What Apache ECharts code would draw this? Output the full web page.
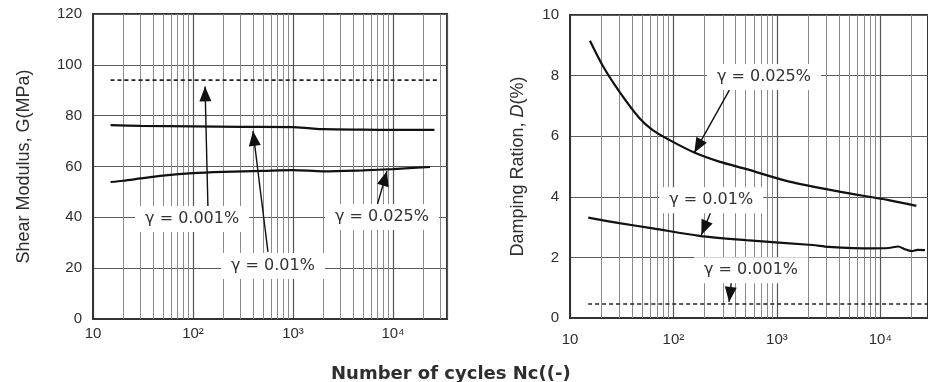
<!DOCTYPE html>
<html>
<head>
<meta charset="utf-8">
<script src="https://cdn.jsdelivr.net/npm/echarts@6/dist/echarts.min.js"></script>
<style>
html,body{margin:0;padding:0;background:#fff;}
#chart{width:928px;height:382px;}
</style>
</head>
<body>
<div id="chart"></div>
<script>
// ---------- data ----------
// Left panel: shear modulus G (MPa) vs number of cycles
const gX_001  = [15, 100, 1000, 10000, 29500];
const gY_001  = [94, 94, 94, 94, 94];
const gX_01   = [15, 30, 100, 300, 1000, 1500, 2000, 5000, 10000, 26000];
const gY_01   = [76.3, 76.0, 75.8, 75.6, 75.5, 75.0, 74.7, 74.5, 74.4, 74.4];
const gX_025  = [15, 20, 30, 50, 100, 200, 500, 1000, 2000, 5000, 10000, 23500];
const gY_025  = [53.9, 54.4, 55.3, 56.4, 57.4, 57.9, 58.3, 58.6, 58.1, 58.5, 59.0, 59.8];

// Right panel: damping ratio D (%) vs number of cycles
const dX_025  = [15.6, 21, 30, 47, 63, 92, 159, 277, 500, 1320, 4000, 12000, 22300];
const dY_025  = [9.15, 8.29, 7.47, 6.59, 6.2, 5.87, 5.46, 5.16, 4.92, 4.50, 4.17, 3.89, 3.70];
const dX_01   = [15, 30, 63, 178, 500, 2200, 3160, 8300, 12000, 14900, 17000, 20000, 23000, 27000];
const dY_01   = [3.31, 3.13, 2.96, 2.71, 2.57, 2.41, 2.35, 2.30, 2.31, 2.36, 2.28, 2.21, 2.25, 2.24];
const dX_001  = [15, 100, 1000, 10000, 29000];
const dY_001  = [0.46, 0.46, 0.46, 0.46, 0.46];

// axis ticks
const gTicks = [0, 20, 40, 60, 80, 100, 120];
const dTicks = [0, 2, 4, 6, 8, 10];
const decadeLabels = {1: '10', 2: '10²', 3: '10³', 4: '10⁴'};
const minorMultipliers = [2, 3, 4, 5, 6, 7, 8, 9];
const decades = [10, 100, 1000, 10000];

// annotations: label text, label anchor [N, value], arrow start, arrow tip
const gLabels = ['γ = 0.001%', 'γ = 0.01%', 'γ = 0.025%'];
const gLabelAt = [[98, 39.3], [630, 20.9], [7760, 40.1]];
const gArrowFrom = [[141, 44.5], [562, 26.4], [6920, 44.5]];
const gArrowTo = [[132, 91.5], [398, 74.0], [8710, 58.2]];

const dLabels = ['γ = 0.025%', 'γ = 0.01%', 'γ = 0.001%'];
const dLabelAt = [[750, 7.95], [232, 3.89], [562, 1.58]];
const dArrowFrom = [[347, 7.52], [232, 3.53], [363, 1.19]];
const dArrowTo = [[159, 5.45], [186, 2.74], [345, 0.53]];

const xTitle = 'Number of cycles Nc((-)';
const gName = 'Shear Modulus, G(MPa)';
const dName = 'Damping Ration, {i|D}(%)';

// ---------- chart ----------
const zip = (xs, ys) => xs.map((x, i) => [x, ys[i]]);
const minorVals = [];
decades.forEach(d => minorMultipliers.forEach(m => minorVals.push(d * m)));

const FONT = 'Liberation Sans, Arial, sans-serif';
const AFONT = 'DejaVu Sans, sans-serif';
const txt = '#2e2e2e';
// arrow head whose tip sits at the symbol centre
const ARROW = 'path://M6,0 L6.01,0 L6,0.01 Z M6,15 L12,30 L0,30 Z';

function xAxisCfg(gridIndex, max, labelMargin) {
  return {
    type: 'log', logBase: 10, gridIndex, min: 10, max,
    axisLine: {show: true, lineStyle: {color: '#333', width: 2}},
    axisTick: {show: false},
    axisLabel: {
      color: txt, fontSize: 15, fontFamily: FONT, margin: labelMargin,
      showMaxLabel: false,
      formatter: v => {
        const e = Math.log10(v), r = Math.round(e);
        return Math.abs(e - r) < 1e-6 && decadeLabels[r] ? decadeLabels[r] : '';
      }
    },
    splitLine: {show: true, lineStyle: {color: '#555', width: 1.2}}
  };
}
function yAxisCfg(gridIndex, ticks, name, gap) {
  return {
    type: 'value', gridIndex, min: ticks[0], max: ticks[ticks.length - 1],
    interval: ticks[1] - ticks[0],
    name, nameLocation: 'middle', nameGap: gap,
    nameTextStyle: {color: txt, fontSize: 18, fontFamily: FONT,
      rich: {i: {fontStyle: 'italic', fontSize: 18, fontFamily: FONT, color: txt}}},
    axisLine: {show: true, lineStyle: {color: '#333', width: 2}},
    axisTick: {show: false},
    axisLabel: {color: txt, fontSize: 15, fontFamily: FONT, margin: 11},
    splitLine: {show: true, lineStyle: {color: '#5a5a5a', width: 1}}
  };
}
function curve(xi, xs, ys, dashed) {
  return {
    type: 'line', xAxisIndex: xi, yAxisIndex: xi, data: zip(xs, ys),
    showSymbol: false, smooth: 0.3, z: 5,
    lineStyle: dashed ? {color: '#222', width: 1.6, type: [4, 3]} : {color: '#111', width: 2.2}
  };
}
function minorGrid(xi) {
  return {
    type: 'line', xAxisIndex: xi, yAxisIndex: xi, data: [], z: 1, silent: true,
    markLine: {
      silent: true, symbol: 'none', animation: false,
      label: {show: false},
      lineStyle: {color: '#8a8a8a', width: 1, type: 'solid'},
      data: minorVals.map(v => ({xAxis: v}))
    }
  };
}
function annot(xi, labels, at, from, to) {
  return {
    type: 'line', xAxisIndex: xi, yAxisIndex: xi, data: [], z: 8, silent: true,
    markPoint: {
      animation: false, symbol: 'rect', symbolSize: 1,
      itemStyle: {color: 'rgba(0,0,0,0)'},
      label: {show: true, position: 'inside', color: '#333', fontSize: 16, fontFamily: AFONT,
        backgroundColor: '#fff', padding: [5, 10]},
      data: labels.map((t, i) => ({coord: at[i], value: t, label: {formatter: t}}))
    },
    markLine: {
      animation: false, silent: true,
      symbol: ['none', ARROW], symbolSize: 30, symbolKeepAspect: true,
      label: {show: false},
      lineStyle: {color: '#111', width: 1.4, type: 'solid'},
      itemStyle: {color: '#111'},
      data: from.map((f, i) => [{coord: f}, {coord: to[i]}])
    }
  };
}

const chart = echarts.init(document.getElementById('chart'), null, {renderer: 'canvas'});
chart.setOption({
  animation: false,
  backgroundColor: '#fff',
  title: {
    text: xTitle, left: 326, top: 360,
    textStyle: {color: txt, fontSize: 18, fontWeight: 'bold', fontFamily: AFONT}
  },
  grid: [
    {left: 93, right: 481, top: 14, bottom: 63, show: true, borderColor: '#333', borderWidth: 2},
    {left: 570, right: -3, top: 15, bottom: 64, show: true, borderColor: '#333', borderWidth: 2}
  ],
  xAxis: [xAxisCfg(0, 34700, 7), xAxisCfg(1, 28900, 14)],
  yAxis: [yAxisCfg(0, gTicks, gName, 60), yAxisCfg(1, dTicks, dName, 43)],
  series: [
    minorGrid(0), minorGrid(1),
    curve(0, gX_001, gY_001, true),
    curve(0, gX_01, gY_01, false),
    curve(0, gX_025, gY_025, false),
    curve(1, dX_025, dY_025, false),
    curve(1, dX_01, dY_01, false),
    curve(1, dX_001, dY_001, true),
    annot(0, gLabels, gLabelAt, gArrowFrom, gArrowTo),
    annot(1, dLabels, dLabelAt, dArrowFrom, dArrowTo)
  ]
});
</script>
</body>
</html>
